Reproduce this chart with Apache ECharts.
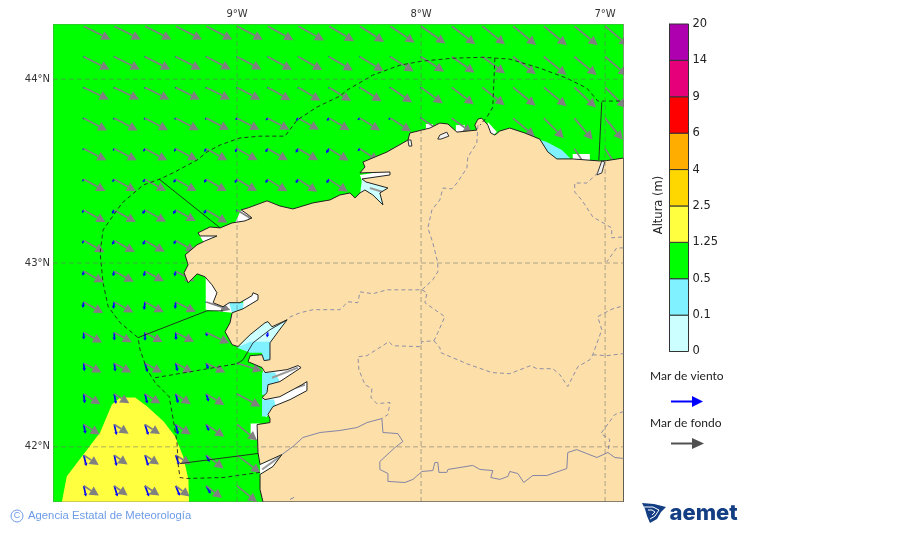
<!DOCTYPE html>
<html>
<head>
<meta charset="utf-8">
<script src="https://cdn.jsdelivr.net/npm/echarts@6/dist/echarts.min.js"></script>
<style>html,body{margin:0;padding:0;background:#fff}#chart{width:900px;height:533px}</style>
</head>
<body>
<div id="chart"></div>
<script>
const lonExtent = [-10, -6.9];
const latExtent = [41.7, 44.3];
const lonTicks = [-9, -8, -7];
const latTicks = [42, 43, 44];
const heightTicks = ['0', '0.1', '0.5', '1.25', '2.5', '4', '6', '9', '14', '20'];
const heightColors = ['#CCFFFF', '#80F2FF', '#00FF00', '#FFFF40', '#FFD700', '#FFAE00', '#FF0000', '#E6007A', '#AE00AE'];

// wave grid nodes
const gridLons = [-9.833, -9.667, -9.5, -9.333, -9.167, -9, -8.833, -8.667, -8.5, -8.333, -8.167, -8, -7.833, -7.667, -7.5, -7.333, -7.167, -7];
const gridLats = [44.288, 44.122, 43.955, 43.788, 43.622, 43.455, 43.288, 43.122, 42.955, 42.788, 42.622, 42.455, 42.288, 42.122, 41.955, 41.788];

// swell (mar de fondo), east and south components per grid node
const swellEast = [
  [26.7,26.5,26.4,26.3,26,25.8,25.7,25.7,25,24.3,24.3,24.3,23.5,22.7,23,23,23.3,23.3],
  [25.7,25.5,25.2,25,24.3,24.3,24.2,24,23.8,23.7,23.3,23,22.8,22.7,22.7,22.7,22.3,22.3],
  [25,24.7,24.3,24,23.7,23.3,22.8,22.3,22,21.7,21.7,21.7,22,22.3,22.5,22.7,21.7,21],
  [23.3,23.3,23,23,22.7,22.3,21.5,20.7,20.5,20.3,20.7,20.5,20.3,null,21.7,20,18.3,17.7],
  [22.7,22.5,22.2,21.5,21,20.5,20,19.7,19.5,19,18.5,null,null,null,null,null,16,16],
  [21.7,21.5,21,20.7,20.3,20,19.5,19,18.7],
  [21.7,21.5,21,20,21,20],
  [20.7,20.5,19.7,19.5],
  [20,19.5,19,18.7],
  [19.3,19,18.7,20,24],
  [18.3,17.5,17.5,18.3,23],
  [17.7,17,17,16.7,19,25],
  [16.7,15,15.5,15,18,23.3],
  [16,14.3,15,15,18,20],
  [15,13.3,14,15,17.3,23.3],
  [15,13.3,14.3,14,15.7,20]
];
const swellSouth = [
  [13.3,13.3,13.3,13.3,13.3,13.5,14,14.3,15,15.7,16.5,17.3,18,18.3,18.7,19,19,19.5],
  [12.7,12.7,12.7,12.7,12.7,12.8,13,13.3,13.8,14.3,14.7,15,16,16.7,17.5,18.3,18.3,19],
  [12,12,12,12,12,12.3,12.8,13.3,13.5,13.7,15,16,17,17.7,18.2,18.7,20,20.5],
  [12.3,12.3,12,12,11.7,11.7,11.7,11.7,12,12.3,13.3,14,15,null,18.3,20,21.7,21.7],
  [11.7,11.7,11.7,11.7,11.7,11.7,11.7,11.7,12,12.5,13,null,null,null,null,null,24,24],
  [11.7,11.7,11.7,11.7,11.7,11.7,12,12.3,12.5],
  [12,12,11.7,11,12.7,12],
  [11.7,11.5,11.3,11],
  [11,10.5,10,10],
  [11,10.5,10.3,10,8],
  [10,9.7,9.5,9.3,10.7],
  [9.3,9.3,9.3,9.3,9.3,7.7],
  [10.3,9.3,9.7,10.3,11,12.7],
  [10,9.3,9.7,10,12.3,16],
  [10,9.3,9.3,9.3,13.3,17.7],
  [9.7,9.7,9.7,10.7,12.3,16.3]
];

// wind sea (mar de viento), east and south components per grid node
const windEast = [
  [],
  [-.4,-.4,-.4,-.4,-.4,-.4,-.4,-.4,-.4,-.4,-.4,-.4],
  [-.8,-.8,-.8,-.8,-.8,-.8,-.8,-.8,-.8,-.8,-.8,-.8],
  [-1,-1,-1.2,-1.3,-1.3,-1.5,-2,-2.3,-2.3,-2.3,-2,-.7],
  [-1,-1.3,-1.7,-1.7,-2,-2,-2.3,-2.7,-3,-2],
  [-1.3,-2,-2.3,-2.3,-2.3,-2.3,-2.3,-2.7,-2.7],
  [-1.7,-2.3,-2.7,-2.7,-2.7,-1.2],
  [-1.7,-2,-2.3,-2],
  [-1,-1.3,-1.3,-1.3],
  [-1,-1,-1,-.7,-.7],
  [0,0,0,.3,.7,null,-.7],
  [.7,1,2.5,1.7,2,.5],
  [1,1.7,2.3,2.3,2.3,.5],
  [1.7,2.3,3.3,2.3,2.7],
  [2.7,2.3,3.3,3.3,3.3],
  [2.3,3.3,4,4,4.3]
];
const windSouth = [
  [],
  [.7,.7,.7,.7,.7,.7,.7,.7,.7,.7,.7,.7],
  [1,1,1,1,1,1,1,1,1,1,1,1],
  [1.2,1.5,1.5,1.5,1.7,2,2.3,2.7,2.7,2,1.5,.8],
  [1.7,2.3,3,3,3.3,3.7,3.7,4,4.7,2.5],
  [2.3,2.7,3,3.3,3.3,3.7,3.7,3.7,3.7],
  [3,3.7,4,4,3.7,1.5],
  [3,4.3,4.3,3.7],
  [4.5,5,5.3,5],
  [6,7,8,7,1],
  [7,8,8.3,7.5,4,null,5],
  [8,8.3,9,8,6,.7],
  [9.3,10,9.7,9.3,7.7,.7],
  [9.3,10.7,10.7,10,6.7],
  [11,11,11,10,7],
  [10.7,10.7,10.7,10,8]
];

// filled wave height areas
const seaBand = [[-10,41.7],[-6.9,41.7],[-6.9,44.3],[-10,44.3]];
const yellowBand = [[-9.952,41.7],[-9.925,41.84],[-9.835,41.958],[-9.744,42.078],[-9.68,42.23],[-9.635,42.268],[-9.554,42.268],[-9.49,42.221],[-9.4,42.139],[-9.337,42.058],[-9.293,41.949],[-9.264,41.823],[-9.261,41.7]];
const whiteAreas = [
  [[-9.17,42.925],[-9.17,42.746],[-9.027,42.729],[-9.027,42.8],[-9.109,42.909]],
  [[-8.926,42.127],[-8.926,42.04],[-8.875,42.04],[-8.875,42.127]],
  [[-8.967,42.8],[-8.886,42.854],[-8.864,42.8],[-8.967,42.74]],
  [[-8.864,42.442],[-8.631,42.463],[-8.712,42.338],[-8.843,42.284]],
  [[-8.864,42.268],[-8.604,42.376],[-8.604,42.3],[-8.805,42.203],[-8.843,42.159]],
  [[-8.332,43.479],[-8.158,43.506],[-8.158,43.468],[-8.321,43.446]],
  [[-8.978,43.289],[-8.908,43.256],[-8.951,43.218],[-9.011,43.218]],
  [[-9.212,43.164],[-9.098,43.158],[-9.179,43.109]],
  [[-7.176,43.593],[-7.083,43.593],[-7.083,43.56],[-7.176,43.56]],
  [[-7.974,43.756],[-7.936,43.756],[-7.936,43.723],[-7.974,43.723]],
  [[-7.811,43.75],[-7.762,43.75],[-7.762,43.707],[-7.811,43.707]],
  [[-7.637,43.767],[-7.588,43.712],[-7.615,43.69],[-7.642,43.739]],
  [[-8.875,41.904],[-8.756,41.958],[-8.805,41.893],[-8.875,41.85]]
];
const paleAreas = [
  [[-8.995,42.545],[-8.848,42.691],[-8.712,42.702],[-8.81,42.556],[-8.929,42.556]],
  [[-8.321,43.457],[-8.169,43.419],[-8.196,43.3],[-8.289,43.37],[-8.332,43.37]]
];
const cyanAreas = [
  [[-9.043,42.784],[-8.967,42.784],[-8.967,42.751],[-9.027,42.729]],
  [[-9,42.539],[-8.929,42.572],[-8.81,42.572],[-8.81,42.463],[-8.864,42.463],[-8.864,42.512],[-8.929,42.512]],
  [[-8.864,42.404],[-8.794,42.404],[-8.767,42.355],[-8.832,42.338],[-8.837,42.284],[-8.864,42.284]],
  [[-8.864,42.257],[-8.799,42.257],[-8.788,42.219],[-8.826,42.192],[-8.837,42.165],[-8.864,42.165]],
  [[-7.351,43.669],[-7.317,43.658],[-7.235,43.614],[-7.188,43.569],[-7.262,43.566],[-7.311,43.604]]
];
// grey shallow strips inside the rias
const riaShoals = [
  [[-8.278,43.408],[-8.207,43.386],[-8.213,43.343]],
  [[-8.794,42.284],[-8.631,42.338]],
  [[-8.81,42.376],[-8.669,42.431]],
  [[-8.864,41.877],[-8.767,41.947]]
];

// land and coast
const land = [[-6.9,43.571],[-6.991,43.557],[-7.029,43.555],[-7.176,43.566],[-7.262,43.566],[-7.311,43.604],[-7.355,43.674],[-7.436,43.707],[-7.518,43.734],[-7.572,43.718],[-7.599,43.696],[-7.621,43.707],[-7.637,43.75],[-7.67,43.788],[-7.691,43.783],[-7.708,43.75],[-7.697,43.723],[-7.805,43.712],[-7.854,43.756],[-7.898,43.761],[-7.952,43.734],[-8.061,43.707],[-8.071,43.669],[-8.185,43.604],[-8.316,43.549],[-8.305,43.522],[-8.332,43.49],[-8.169,43.495],[-8.169,43.479],[-8.321,43.457],[-8.3,43.441],[-8.18,43.408],[-8.224,43.381],[-8.207,43.316],[-8.262,43.37],[-8.305,43.397],[-8.332,43.381],[-8.359,43.354],[-8.386,43.381],[-8.441,43.37],[-8.495,43.343],[-8.587,43.327],[-8.696,43.294],[-8.767,43.31],[-8.837,43.338],[-8.94,43.3],[-8.978,43.289],[-8.946,43.267],[-8.919,43.245],[-8.957,43.229],[-9.027,43.218],[-9.092,43.191],[-9.147,43.196],[-9.212,43.164],[-9.201,43.147],[-9.109,43.147],[-9.174,43.12],[-9.217,43.099],[-9.282,43.044],[-9.266,42.99],[-9.288,42.947],[-9.266,42.892],[-9.217,42.941],[-9.174,42.925],[-9.136,42.881],[-9.109,42.838],[-9.13,42.784],[-9.076,42.762],[-9.043,42.784],[-8.984,42.784],[-8.919,42.822],[-8.913,42.838],[-8.886,42.827],[-8.886,42.8],[-8.967,42.751],[-9.027,42.729],[-9.038,42.675],[-9.065,42.626],[-9.027,42.556],[-8.995,42.545],[-8.929,42.61],[-8.848,42.675],[-8.832,42.681],[-8.81,42.653],[-8.728,42.691],[-8.777,42.626],[-8.821,42.566],[-8.821,42.474],[-8.853,42.469],[-8.864,42.501],[-8.929,42.496],[-8.94,42.463],[-8.864,42.431],[-8.848,42.404],[-8.728,42.42],[-8.669,42.442],[-8.652,42.431],[-8.767,42.355],[-8.832,42.338],[-8.837,42.295],[-8.864,42.268],[-8.848,42.257],[-8.767,42.273],[-8.647,42.338],[-8.62,42.355],[-8.62,42.306],[-8.712,42.257],[-8.805,42.219],[-8.832,42.176],[-8.821,42.154],[-8.821,42.132],[-8.891,42.121],[-8.886,41.969],[-8.875,41.904],[-8.756,41.958],[-8.805,41.893],[-8.875,41.85],[-8.875,41.768],[-8.859,41.7],[-6.9,41.7]];
const smallRias = [
  [[-7.018,43.555],[-7.045,43.479],[-7.018,43.49],[-7.002,43.549]],
  [[-7.86,43.712],[-7.849,43.69],[-7.892,43.674],[-7.909,43.674],[-7.898,43.696]],
  [[-8.071,43.669],[-8.055,43.669],[-8.05,43.636],[-8.066,43.636]]
];

// maritime zone limits
const zoneDashed = [
  [[-8.875,41.861],[-9.076,41.833],[-9.272,41.828],[-9.31,41.833],[-9.32,41.904],[-9.326,42.023],[-9.353,42.186],[-9.369,42.273],[-9.445,42.349],[-9.489,42.42],[-9.527,42.528],[-9.538,42.594],[-9.635,42.675],[-9.7,42.762],[-9.728,42.892],[-9.744,43.055],[-9.728,43.18],[-9.624,43.327],[-9.51,43.424],[-9.418,43.457],[-9.348,43.49],[-9.217,43.56],[-9.163,43.604],[-9.092,43.642],[-8.984,43.68],[-8.875,43.69],[-8.739,43.69],[-8.674,43.777],[-8.566,43.848],[-8.441,43.908],[-8.403,43.94],[-8.262,44.022],[-8.115,44.076],[-7.995,44.098],[-7.827,44.114],[-7.664,44.119],[-7.518,44.109],[-7.355,44.06],[-7.208,44.005],[-7.099,43.951],[-7.04,43.881],[-6.9,43.881]],
  [[-7.599,44.114],[-7.61,43.848],[-7.642,43.794],[-7.68,43.75]],
  [[-9.445,42.376],[-9,42.452]]
];
const zoneSolid = [
  [[-7.018,43.875],[-7.034,43.56]],
  [[-9.424,43.457],[-9.092,43.191]],
  [[-9.538,42.594],[-9.163,42.74],[-9.076,42.74]],
  [[-9,42.452],[-8.967,42.474],[-8.913,42.566],[-8.821,42.637],[-8.728,42.691]],
  [[-9.31,41.909],[-8.886,41.964]]
];

// province limits and the Portuguese border
const provinces = [
  [[-7.691,43.75],[-7.697,43.652],[-7.746,43.576],[-7.751,43.517],[-7.805,43.435],[-7.833,43.403],[-7.881,43.408],[-7.898,43.343],[-7.941,43.289],[-7.963,43.191],[-7.936,43.109],[-7.909,43.001],[-7.909,42.952],[-7.936,42.909],[-7.995,42.854],[-8.185,42.854],[-8.262,42.833],[-8.332,42.843],[-8.343,42.784],[-8.397,42.789],[-8.441,42.746],[-8.587,42.746],[-8.658,42.729],[-8.723,42.702]],
  [[-7.995,42.854],[-7.968,42.838],[-7.979,42.784],[-7.871,42.708],[-7.909,42.621],[-7.93,42.577],[-7.995,42.572],[-8.006,42.545],[-8.153,42.55],[-8.175,42.572],[-8.294,42.496],[-8.343,42.49],[-8.338,42.42],[-8.305,42.338],[-8.267,42.317],[-8.272,42.268],[-8.24,42.235],[-8.169,42.241],[-8.18,42.176],[-8.213,42.154]],
  [[-7.93,42.577],[-7.898,42.539],[-7.892,42.512],[-7.751,42.452],[-7.615,42.404],[-7.518,42.398],[-7.404,42.442],[-7.371,42.425],[-7.284,42.425],[-7.246,42.393],[-7.203,42.328],[-7.148,42.436],[-7.083,42.474],[-7.067,42.501],[-7.018,42.637],[-7.04,42.708],[-7.002,42.729],[-6.958,42.751],[-6.9,42.767]],
  [[-7.067,42.501],[-6.991,42.496],[-6.9,42.507]],
  [[-6.9,42.192],[-6.947,42.176],[-7.023,42.072],[-6.975,42.04],[-6.985,41.969]],
  [[-7.04,43.49],[-7.099,43.435],[-7.165,43.435],[-7.165,43.386],[-7.127,43.343],[-7.067,43.251],[-6.964,43.191],[-6.964,43.137],[-6.9,43.142]],
  [[-6.9,43.082],[-6.937,43.082],[-6.991,43.006]]
];
const border = [
  [[-8.756,41.958],[-8.696,42.002],[-8.642,42.051],[-8.549,42.078],[-8.441,42.089],[-8.348,42.105],[-8.294,42.132],[-8.213,42.154],[-8.207,42.078],[-8.126,42.072],[-8.099,42.029],[-8.142,41.996],[-8.224,41.92],[-8.224,41.877],[-8.18,41.855],[-8.18,41.812],[-8.088,41.806],[-8.044,41.823],[-7.995,41.866],[-7.936,41.871],[-7.925,41.915],[-7.909,41.915],[-7.903,41.861],[-7.86,41.861],[-7.854,41.877],[-7.719,41.899],[-7.68,41.877],[-7.61,41.871],[-7.621,41.833],[-7.572,41.823],[-7.528,41.839],[-7.518,41.866],[-7.474,41.855],[-7.442,41.806],[-7.393,41.844],[-7.317,41.844],[-7.208,41.882],[-7.203,41.969],[-7.154,41.985],[-7.045,41.942],[-6.985,41.969],[-6.947,41.942],[-6.9,41.937]],
  [[-8.712,41.714],[-8.69,41.725]]
];

function areaSeries(areas, fill, z, stroke) {
  return {
    type: 'custom', xAxisIndex: 0, yAxisIndex: 0, z: z, clip: true, silent: true,
    data: areas.map((a, i) => [i]),
    renderItem(params, api) {
      return {
        type: 'polygon',
        shape: { points: areas[api.value(0)].map(p => api.coord(p)) },
        style: { fill: fill, stroke: stroke || null, lineWidth: stroke ? 1 : 0 }
      };
    }
  };
}

function lineSeries(lines, color, width, dash, z) {
  return {
    type: 'custom', xAxisIndex: 0, yAxisIndex: 0, z: z, clip: true, silent: true,
    data: lines.map((a, i) => [i]),
    renderItem(params, api) {
      return {
        type: 'polyline',
        shape: { points: lines[api.value(0)].map(p => api.coord(p)) },
        style: { fill: null, stroke: color, lineWidth: width, lineDash: dash || null }
      };
    }
  };
}

function arrowSeries(east, south, color, width, headLen, headWide, z) {
  const cells = [];
  gridLats.forEach((lat, r) => {
    gridLons.forEach((lon, c) => {
      if (east[r][c] != null) cells.push([lon, lat, east[r][c], south[r][c]]);
    });
  });
  return {
    type: 'custom', xAxisIndex: 0, yAxisIndex: 0, z: z, clip: true, silent: true,
    data: cells,
    renderItem(params, api) {
      const tail = api.coord([api.value(0), api.value(1)]);
      const dx = api.value(2), dy = api.value(3);
      const len = Math.sqrt(dx * dx + dy * dy);
      const ux = dx / len, uy = dy / len;
      const tip = [tail[0] + dx, tail[1] + dy];
      const hl = Math.min(headLen, len * 0.6), hw = Math.min(headWide, len * 0.4);
      const base = [tip[0] - ux * hl, tip[1] - uy * hl];
      return {
        type: 'group',
        children: [
          { type: 'line', shape: { x1: tail[0], y1: tail[1], x2: base[0], y2: base[1] }, style: { stroke: color, lineWidth: width } },
          { type: 'polygon', shape: { points: [tip, [base[0] - uy * hw, base[1] + ux * hw], [base[0] + uy * hw, base[1] - ux * hw]] }, style: { fill: color } }
        ]
      };
    }
  };
}

const frame = [[[-10,41.7],[-6.9,41.7],[-6.9,44.3],[-10,44.3],[-10,41.7]]];
const gridLines = lonTicks.map(v => [[v, latExtent[0]], [v, latExtent[1]]])
  .concat(latTicks.map(v => [[lonExtent[0], v], [lonExtent[1], v]]));

const option = {
  animation: false,
  backgroundColor: '#fff',
  grid: [
    { left: 53, top: 24, width: 570.5, height: 478 },
    { left: 669.5, top: 24, width: 19, height: 327.5 }
  ],
  xAxis: [
    {
      type: 'value', min: lonExtent[0], max: lonExtent[1], position: 'top',
      axisLine: { show: false }, axisTick: { show: false },
      axisLabel: {
        margin: 5, fontFamily: 'DejaVu Sans', fontSize: 10, color: '#333', customValues: lonTicks,
        formatter: v => Math.abs(v) + '°W'
      },
      splitLine: { show: false }
    },
    { type: 'value', gridIndex: 1, min: 0, max: 1, show: false }
  ],
  yAxis: [
    {
      type: 'value', min: latExtent[0], max: latExtent[1],
      axisLine: { show: false }, axisTick: { show: false },
      axisLabel: {
        margin: 3, fontFamily: 'DejaVu Sans', fontSize: 10, color: '#333', customValues: latTicks,
        formatter: v => v + '°N'
      },
      splitLine: { show: false }
    },
    {
      type: 'value', gridIndex: 1, min: 0, max: 9, interval: 1, position: 'right',
      axisLine: { show: true, lineStyle: { color: '#333', width: 1 } },
      axisTick: { show: true, length: 3, lineStyle: { color: '#333' } },
      axisLabel: { margin: 4, fontFamily: 'DejaVu Sans', fontSize: 11.5, color: '#222', formatter: v => heightTicks[v] },
      splitLine: { show: false }
    }
  ],
  series: [
    areaSeries([seaBand], '#00FF00', 1),
    areaSeries([yellowBand], '#FFFF40', 2),
    areaSeries(whiteAreas, '#FFFFFF', 2),
    areaSeries(paleAreas, '#CCFFFF', 2),
    areaSeries(cyanAreas, '#80F2FF', 2),
    lineSeries(riaShoals, '#9A9A9A', 2, null, 2),
    arrowSeries(windEast, windSouth, '#0000FF', 1.7, 3, 1.8, 3),
    arrowSeries(swellEast, swellSouth, '#808080', 1.7, 9, 4.8, 4),
    areaSeries([land], '#FDDFA9', 5, '#222'),
    areaSeries(smallRias, '#F2F2F2', 5, '#333'),
    lineSeries(provinces, '#8F8FA5', 1, [4, 3], 6),
    lineSeries(border, '#8585A5', 1, null, 6),
    lineSeries(zoneDashed, '#222', 0.9, [4, 3], 7),
    lineSeries(zoneSolid, '#222', 0.9, null, 7),
    lineSeries(gridLines, 'rgba(110,110,110,0.55)', 1, [5, 3], 8),
    lineSeries(frame, 'rgba(120,120,110,0.7)', 1, null, 9),
    {
      type: 'custom', xAxisIndex: 1, yAxisIndex: 1, silent: true, z: 2,
      data: heightColors.map((c, i) => [i]),
      renderItem(params, api) {
        const i = api.value(0);
        const a = api.coord([0, i]), b = api.coord([1, i + 1]);
        return {
          type: 'rect',
          shape: { x: a[0], y: b[1], width: b[0] - a[0], height: a[1] - b[1] },
          style: { fill: heightColors[i], stroke: '#333', lineWidth: 1 }
        };
      }
    }
  ],
  graphic: [
    { type: 'text', x: 659, y: 205, rotation: Math.PI / 2, style: { text: 'Altura (m)', font: '11.5px "DejaVu Sans"', fill: '#222', textAlign: 'center', textVerticalAlign: 'middle' } },
    { type: 'text', x: 650, y: 376, style: { text: 'Mar de viento', font: '12px Lato', fill: '#222', textVerticalAlign: 'middle' } },
    { type: 'text', x: 650, y: 423, style: { text: 'Mar de fondo', font: '12px Lato', fill: '#222', textVerticalAlign: 'middle' } },
    { type: 'line', shape: { x1: 671, y1: 401.5, x2: 693, y2: 401.5 }, style: { stroke: '#0000FF', lineWidth: 2 } },
    { type: 'polygon', shape: { points: [[703, 401.5], [692, 396], [692, 407]] }, style: { fill: '#0000FF' } },
    { type: 'line', shape: { x1: 671, y1: 443.5, x2: 693, y2: 443.5 }, style: { stroke: '#505050', lineWidth: 2 } },
    { type: 'polygon', shape: { points: [[704, 443.5], [692, 438], [692, 449]] }, style: { fill: '#505050' } },
    { type: 'circle', shape: { cx: 17, cy: 516, r: 6 }, style: { fill: null, stroke: '#6C9BE8', lineWidth: 1 } },
    { type: 'text', x: 17, y: 516, style: { text: 'C', font: '9px "Liberation Sans"', fill: '#6C9BE8', textAlign: 'center', textVerticalAlign: 'middle' } },
    { type: 'text', x: 28, y: 516, style: { text: 'Agencia Estatal de Meteorología', font: '11.3px "Liberation Sans"', fill: '#6C9BE8', textVerticalAlign: 'middle' } },
    { type: 'polygon', shape: { points: [[642, 503], [654, 504], [666, 507], [661, 512], [657, 519], [650, 523], [647, 516], [645, 509]] }, style: { fill: '#143E84' } },
    { type: 'polyline', shape: { points: [[644, 507], [653, 507], [659, 510], [655, 516], [650, 519]] }, style: { fill: null, stroke: '#fff', lineWidth: 1 } },
    { type: 'polyline', shape: { points: [[648, 510], [652, 510], [655, 512], [652, 515]] }, style: { fill: null, stroke: '#fff', lineWidth: 1 } },
    { type: 'text', x: 669.5, y: 513, style: { text: 'aemet', font: '800 22px Inter', fill: '#143E84', textVerticalAlign: 'middle' } }
  ]
};

const chart = echarts.init(document.getElementById('chart'));
chart.setOption(option);
</script>
</body>
</html>
